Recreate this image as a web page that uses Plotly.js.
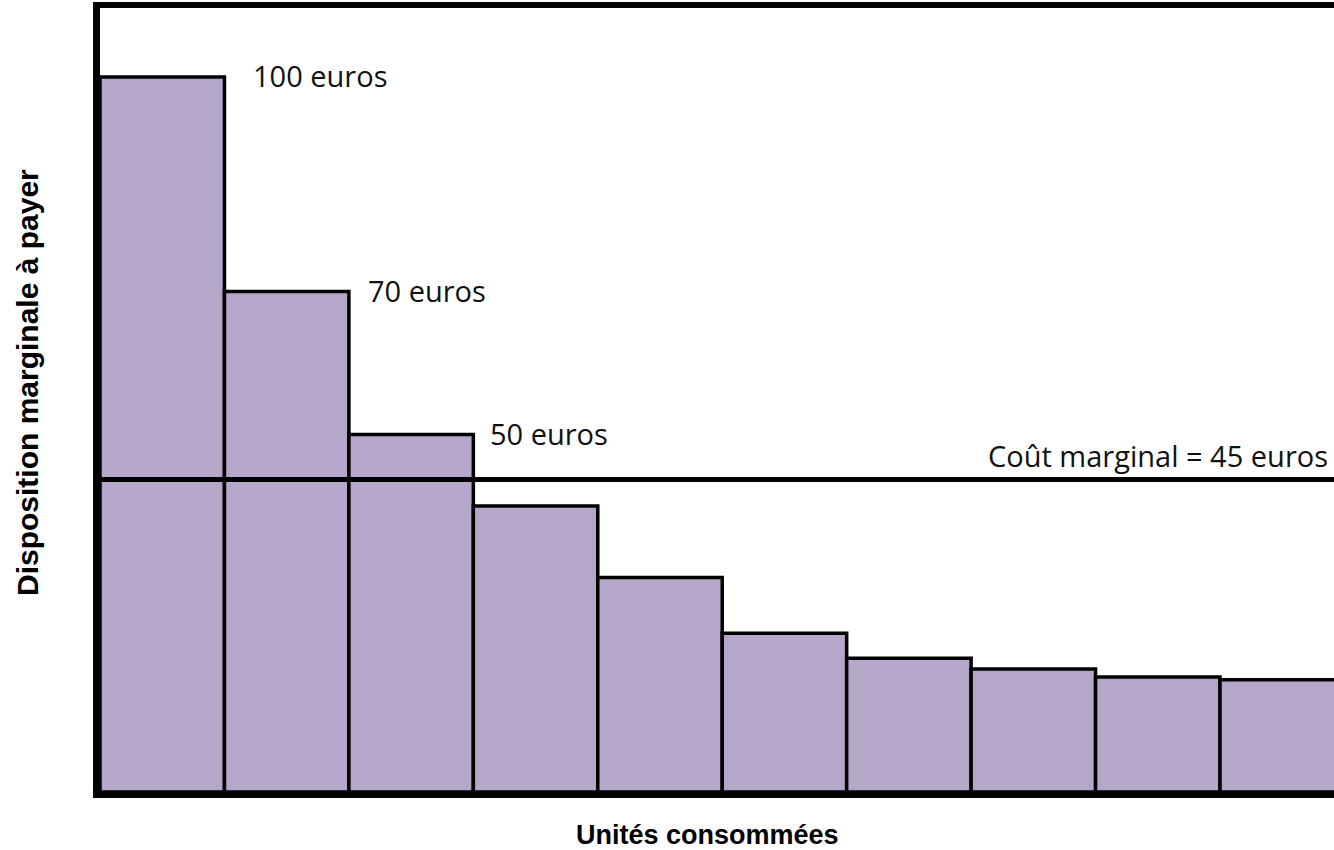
<!DOCTYPE html>
<html>
<head>
<meta charset="utf-8">
<script src="https://cdn.plot.ly/plotly-3.0.1.min.js"></script>
<style>html,body{margin:0;padding:0;background:#fff;}#chart{width:1334px;height:850px;}</style>
</head>
<body>
<div id="chart"></div>
<script>
// Data
const units = [1, 2, 3, 4, 5, 6, 7, 8, 9, 10];
const willingnessToPay = [100, 70, 50, 40, 30, 22.2, 18.7, 17.2, 16.1, 15.7];
const labelledUnits = [1, 2, 3];
const labelTexts = ['100 euros', '70 euros', '50 euros'];
const marginalCost = 43.7;
const marginalCostLabel = 'Coût marginal = 45 euros';
const xTitle = 'Unités consommées';
const yTitle = 'Disposition marginale à payer';

const labelFont = {family: 'Open Sans, Noto Sans, sans-serif', size: 29, color: '#111'};
const titleFont = {family: 'Liberation Sans, Arial, sans-serif', size: 27, color: '#000', weight: 700};

const barTrace = {
  type: 'bar',
  x: units,
  y: willingnessToPay,
  width: 1,
  marker: {color: '#b6a6ca', line: {color: '#000', width: 3.5}},
  hoverinfo: 'skip'
};

const labelShifts = [27, 17, 15];
const annotations = labelledUnits.map((u, i) => ({
  x: u + 0.5, y: willingnessToPay[u - 1], xref: 'x', yref: 'y',
  text: labelTexts[i], showarrow: false,
  xanchor: 'left', yanchor: 'middle', xshift: labelShifts[i], yshift: i === 0 ? 2 : 1,
  font: labelFont
}));
annotations.push({
  x: 1, y: marginalCost, xref: 'paper', yref: 'y',
  text: marginalCostLabel, showarrow: false,
  xanchor: 'right', yanchor: 'bottom', xshift: -4, yshift: 3,
  font: labelFont
});
annotations.push({
  x: (707 - 100) / 1234, y: -(835 - 792) / 784, xref: 'paper', yref: 'paper',
  text: xTitle, showarrow: false, xanchor: 'center', yanchor: 'middle',
  font: titleFont
});
annotations.push({
  x: -(100 - 27) / 1234, y: (792 - 383) / 784, xref: 'paper', yref: 'paper',
  text: yTitle, showarrow: false, xanchor: 'center', yanchor: 'middle', textangle: -90,
  font: Object.assign({}, titleFont, {size: 30})
});

const layout = {
  width: 1334, height: 850,
  margin: {l: 100, r: 0, t: 8, b: 58},
  paper_bgcolor: '#fff', plot_bgcolor: '#fff',
  showlegend: false,
  bargap: 0,
  xaxis: {
    range: [0.5, 10.416], showgrid: false, zeroline: false, showticklabels: false, ticks: '',
    showline: true, linecolor: '#000', linewidth: 6, mirror: true, fixedrange: true
  },
  yaxis: {
    range: [0, 109.65], showgrid: false, zeroline: false, showticklabels: false, ticks: '',
    showline: true, linecolor: '#000', linewidth: 7, fixedrange: true
  },
  shapes: [{
    type: 'line', xref: 'paper', yref: 'y', x0: 0, x1: 1, y0: marginalCost, y1: marginalCost,
    line: {color: '#000', width: 5}, layer: 'above'
  }],
  annotations: annotations
};

Plotly.newPlot('chart', [barTrace], layout, {displayModeBar: false, staticPlot: true});
</script>
</body>
</html>
